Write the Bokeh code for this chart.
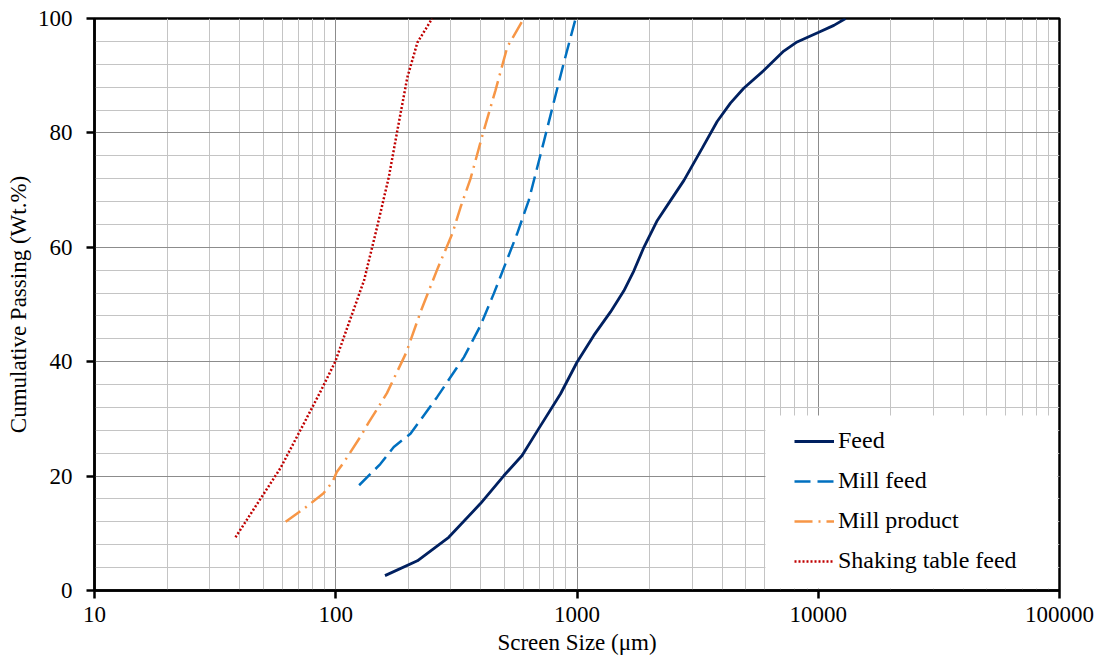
from bokeh.plotting import figure
from bokeh.models import (FixedTicker, SingleIntervalTicker, Legend, LegendItem, Title,
                          NumeralTickFormatter, BoxAnnotation)
from bokeh.embed import file_html
from bokeh.resources import INLINE

# ---- data ----
feed_x = [160, 218, 294, 398, 498, 592, 694, 855, 1000, 1174, 1377, 1564, 1721, 1893,
          2152, 2444, 2775, 3300, 3810, 4325, 4910, 5943, 7195, 8170, 10050, 11610, 12980]
feed_y = [2.6, 5.2, 9.3, 15.2, 20.1, 23.6, 28.3, 34.4, 39.9, 44.6, 48.7, 52.4, 55.9, 60.0,
          64.7, 68.2, 71.7, 77.3, 82.0, 85.2, 87.8, 90.9, 94.3, 95.9, 97.6, 98.8, 100]

millfeed_x = [125, 153, 174, 204, 263, 340, 398, 452, 505, 565, 631, 731, 805, 880, 987]
millfeed_y = [18.4, 22.1, 25.1, 27.4, 33.8, 40.8, 46.3, 51.9, 57.1, 62.4, 68.2, 78.7, 85.7, 92.1, 100]

millprod_x = [62, 76, 89, 97, 101, 108, 127, 137, 153, 163, 196, 226, 265, 305, 329, 362,
              405, 459, 514, 602]
millprod_y = [12.0, 14.7, 17.0, 19.0, 20.7, 22.4, 27.0, 29.4, 32.6, 34.5, 41.6, 49.0, 56.4,
              62.5, 67.0, 72.0, 79.5, 87.4, 95.0, 100]

shake_x = [38.4, 48.7, 59, 71.5, 86.5, 99.5, 115, 131, 148.5, 166, 180, 198, 218, 251]
shake_y = [9.3, 16.0, 21.4, 28.1, 34.8, 40.0, 47.5, 54.2, 63.6, 72.3, 80.4, 89.7, 95.8, 100]

series_names = ["Feed", "Mill feed", "Mill product", "Shaking table feed"]
x_major = [10, 100, 1000, 10000, 100000]
x_minor = [m * d for d in [10, 100, 1000, 10000] for m in range(2, 10)]

FONT = "'Liberation Serif', 'Times New Roman', serif"

p = figure(width=1099, height=664, x_axis_type="log", x_range=(10, 100000), y_range=(0, 100),
           output_backend="svg", toolbar_location=None,
           min_border_left=94, min_border_right=40, min_border_top=18, min_border_bottom=74)
p.background_fill_color = "white"
p.border_fill_color = "white"
p.outline_line_color = "black"
p.outline_line_width = 2.5

xtick = FixedTicker(ticks=x_major, minor_ticks=x_minor)
ytick = SingleIntervalTicker(interval=20, num_minor_ticks=5)
p.xaxis.ticker = xtick
p.xgrid.ticker = xtick
p.xaxis.formatter = NumeralTickFormatter(format="0")
p.yaxis.ticker = ytick
p.ygrid.ticker = ytick

for ax in (p.xaxis, p.yaxis):
    ax.axis_line_color = "black"
    ax.axis_line_width = 2.5
    ax.major_tick_line_color = "black"
    ax.major_tick_line_width = 2.5
    ax.major_tick_in = 0
    ax.major_tick_out = 8
    ax.minor_tick_line_color = None
    ax.major_label_text_font = FONT
    ax.major_label_text_font_size = "23px"
    ax.major_label_text_color = "black"
    ax.axis_label_text_font = FONT
    ax.axis_label_text_font_size = "23px"
    ax.axis_label_text_font_style = "normal"
    ax.axis_label_text_color = "black"

p.xaxis.major_label_standoff = 8
p.yaxis.major_label_standoff = 14
p.yaxis.axis_label = "Cumulative Passing (Wt.%)"
p.yaxis.axis_label_standoff = 4

xt = Title(text="Screen Size (μm)", align="center", offset=-61,
           text_font=FONT, text_font_size="23px", text_font_style="normal",
           text_color="black", standoff=6)
p.add_layout(xt, "below")

for g in (p.xgrid, p.ygrid):
    g.grid_line_color = "#8c8c8c"
    g.grid_line_width = 1
    g.minor_grid_line_color = "#c4c4c4"
    g.minor_grid_line_width = 1

r_shake = p.line(shake_x, shake_y, line_color="#c00000", line_width=2.5, line_dash="2 2")
r_prod = p.line(millprod_x, millprod_y, line_color="#f79646", line_width=2.5, line_dash="18 6 2 6")
r_mfeed = p.line(millfeed_x, millfeed_y, line_color="#0070c0", line_width=2.5, line_dash="16 7")
r_feed = p.line(feed_x, feed_y, line_color="#002060", line_width=2.8)

# white panel behind the legend (covers the grid, as in the reference)
legend_bg = BoxAnnotation(left=6040, right=98100, bottom=0.35, top=30.6,
                          fill_color="white", fill_alpha=1.0, line_color=None)
p.add_layout(legend_bg)

legend = Legend(items=[LegendItem(label=series_names[0], renderers=[r_feed]),
                       LegendItem(label=series_names[1], renderers=[r_mfeed]),
                       LegendItem(label=series_names[2], renderers=[r_prod]),
                       LegendItem(label=series_names[3], renderers=[r_shake])],
                location=(700, 16), margin=0, padding=16, spacing=13,
                glyph_width=40, glyph_height=20, label_height=20, label_standoff=4,
                label_text_font=FONT, label_text_font_size="24px", label_text_color="black",
                background_fill_alpha=0.0, border_line_color=None)
p.add_layout(legend, "center")

open("out.html", "w").write(file_html(p, INLINE))
